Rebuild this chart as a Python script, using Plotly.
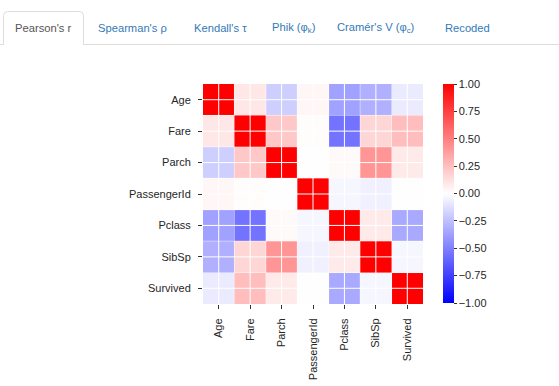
import plotly.graph_objects as go

W, H = 559, 386

variables = ["Age", "Fare", "Parch", "PassengerId", "Pclass", "SibSp", "Survived"]
# Pearson's r matrix (rows/cols in the order of `variables`)
corr = [
    [1.000, 0.096, -0.189, 0.037, -0.369, -0.308, -0.077],
    [0.096, 1.000, 0.216, 0.013, -0.549, 0.160, 0.257],
    [-0.189, 0.216, 1.000, -0.002, 0.018, 0.415, 0.082],
    [0.037, 0.013, -0.002, 1.000, -0.035, -0.058, -0.005],
    [-0.369, -0.549, 0.018, -0.035, 1.000, 0.083, -0.338],
    [-0.308, 0.160, 0.415, -0.058, 0.083, 1.000, -0.035],
    [-0.077, 0.257, 0.082, -0.005, -0.338, -0.035, 1.000],
]
cbar_ticks = [-1.0, -0.75, -0.5, -0.25, 0.0, 0.25, 0.5, 0.75, 1.0]
tab_labels = ["Pearson's r", "Spearman's ρ", "Kendall's τ", "Phik (φ<sub>k</sub>)",
              "Cramér's V (φ<sub>c</sub>)", "Recoded"]
tab_centers = [43.5, 132.5, 220, 294, 376, 467]

def px(x):
    return x / W

def py(y):
    return 1 - y / H

bwr = [[0.0, "rgb(0,0,255)"], [0.5, "rgb(255,255,255)"], [1.0, "rgb(255,0,0)"]]

fig = go.Figure(
    go.Heatmap(
        z=corr, x=variables, y=variables, zmin=-1, zmax=1, colorscale=bwr,
        xgap=0, ygap=0,
        colorbar=dict(
            x=px(442.5), xanchor="left", xpad=0, y=py(193.5), yanchor="middle",
            thickness=11, thicknessmode="pixels", len=219, lenmode="pixels",
            ypad=0, outlinewidth=0, ticks="outside", ticklen=3, tickwidth=1,
            tickcolor="#333", tickvals=cbar_ticks, tickformat=".2f",
            tickfont=dict(family="Liberation Sans", size=11, color="#262626"),
        ),
    )
)

axis_common = dict(
    showgrid=False, zeroline=False, showline=False, ticks="outside", ticklen=4,
    tickwidth=1, tickcolor="#333", ticklabelstandoff=5,
    tickfont=dict(family="Liberation Sans", size=11, color="#262626"),
)
fig.update_layout(
    width=W, height=H, margin=dict(l=0, r=0, t=0, b=0),
    paper_bgcolor="white", plot_bgcolor="white",
    xaxis=dict(domain=[px(203), px(423)], tickangle=-90, **axis_common),
    yaxis=dict(domain=[py(304), py(84)], autorange="reversed", **axis_common),
    showlegend=False,
)

shapes = []
# faint seams between cells
for k in range(len(variables) - 1):
    b = k + 0.5
    shapes.append(dict(type="line", xref="x", yref="y domain", x0=b, x1=b, y0=0, y1=1,
                       line=dict(color="rgba(255,255,255,0.45)", width=1), layer="above"))
    shapes.append(dict(type="line", xref="x domain", yref="y", x0=0, x1=1, y0=b, y1=b,
                       line=dict(color="rgba(255,255,255,0.45)", width=1), layer="above"))
# white grid lines at tick positions over the heatmap
for v in variables:
    shapes.append(dict(type="line", xref="x", yref="y domain", x0=v, x1=v, y0=0, y1=1,
                       line=dict(color="white", width=1), layer="above"))
    shapes.append(dict(type="line", xref="x domain", yref="y", x0=0, x1=1, y0=v, y1=v,
                       line=dict(color="white", width=1), layer="above"))

# tab bar
shapes.append(dict(type="line", xref="paper", yref="paper", x0=0, x1=1, y0=py(44.5), y1=py(44.5),
                   line=dict(color="#dddddd", width=1)))
r = 4
path = (f"M {px(3.5)},{py(44.5)} L {px(3.5)},{py(11.5 + r)} Q {px(3.5)},{py(11.5)} {px(3.5 + r)},{py(11.5)} "
        f"L {px(83.5 - r)},{py(11.5)} Q {px(83.5)},{py(11.5)} {px(83.5)},{py(11.5 + r)} L {px(83.5)},{py(44.5)}")
shapes.append(dict(type="rect", xref="paper", yref="paper", x0=px(4), x1=px(83), y0=py(46), y1=py(12),
                   fillcolor="white", line=dict(width=0)))
shapes.append(dict(type="path", xref="paper", yref="paper", path=path,
                   line=dict(color="#dddddd", width=1)))
fig.update_layout(shapes=shapes)

annotations = []
for i, (lab, cx) in enumerate(zip(tab_labels, tab_centers)):
    annotations.append(dict(
        text=lab, xref="paper", yref="paper", x=px(cx), y=py(27.5), xanchor="center", yanchor="middle",
        showarrow=False,
        font=dict(family="Liberation Sans", size=11.2, color="#555555" if i == 0 else "#337ab7"),
    ))
fig.update_layout(annotations=annotations)

fig.write_html("out.html", config={"displayModeBar": False},
               post_script="document.body.style.margin='0';")
